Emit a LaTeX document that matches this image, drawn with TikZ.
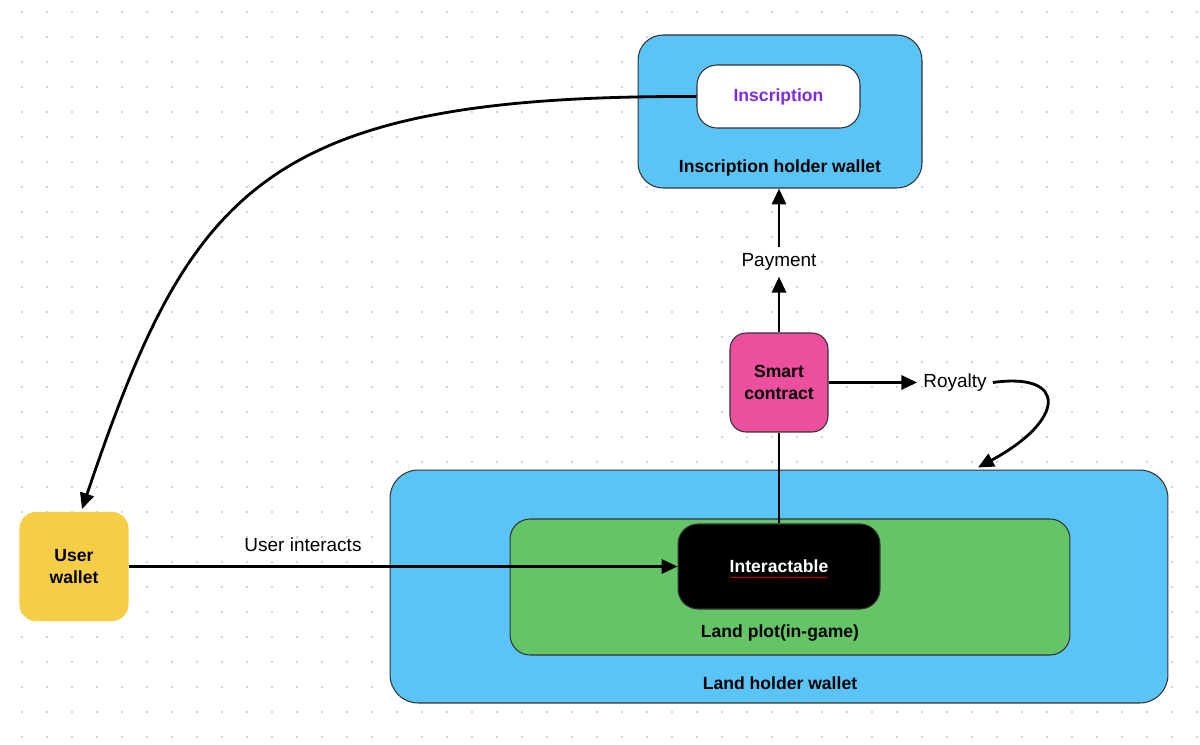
\documentclass[tikz,border=0pt]{standalone}
\usepackage{fontspec}
\setmainfont{Liberation Sans}
\usepackage{tikz}
\usetikzlibrary{
  arrows.meta,%
  calc,%
  % squiggly spell-check line
  decorations.pathmorphing,%
  positioning
}
\definecolor{walletblue}{HTML}{5BC4F6}
\definecolor{plotgreen}{HTML}{65C466}
\definecolor{contractpink}{HTML}{EC4F9E}
\definecolor{useryellow}{HTML}{F5CD47}
\definecolor{insviolet}{HTML}{7D2AE8}
\definecolor{dotgray}{HTML}{C4C4C4}
\tikzset{>={Triangle[length=9pt,width=8pt]}}
\tikzset{font=\fontsize{10.8}{12.8}\selectfont}
\tikzset{
  panel/.style={draw=black!80, line width=0.6pt, inner sep=0pt},
  boldlbl/.style={font=\fontsize{10}{12.5}\selectfont\bfseries},
  flow/.style={->, line width=1.6pt},
  link/.style={line width=1.6pt}
}

\begin{document}
\begin{tikzpicture}[x=0.02cm, y=-0.02cm]
  \useasboundingbox[fill=white] (0,0) rectangle (1200,744);
  % dotted canvas
  \foreach \x in {22,47,...,1197}
    \foreach \y in {12,37,...,737}
      \fill[dotgray] (\x,\y) circle (0.6pt);

  % wallets and boxes
  \node[panel, fill=walletblue, rounded corners=0.5cm, minimum width=5.68cm, minimum height=3.06cm] (inswallet) at (780,111.5) {};
  \node[boldlbl] (inswalletlbl) at (780,168) {Inscription holder wallet};
  \node[panel, fill=white, rounded corners=0.4cm, minimum width=3.26cm, minimum height=1.26cm, boldlbl, text=insviolet] (inscription) at (778.5,96.5) {Inscription};

  \node[panel, fill=walletblue, rounded corners=0.56cm, minimum width=15.56cm, minimum height=4.66cm] (landwallet) at (779,586.5) {};
  \node[boldlbl] (landwalletlbl) at (780,683) {Land holder wallet};
  \node[panel, fill=plotgreen, rounded corners=0.4cm, minimum width=11.2cm, minimum height=2.72cm] (landplot) at (790,587) {};
  \node[boldlbl] (landplotlbl) at (780,633) {Land plot(in-game)};
  \node[panel, fill=black, rounded corners=0.4cm, minimum width=4.04cm, minimum height=1.7cm, boldlbl, text=white] (interact) at (779,566.5) {Interactable};
  \draw[red!85!black, line width=0.4pt, decorate, decoration={snake, amplitude=0.35pt, segment length=2pt}]
    ($(interact.center)+(-49,11)$) -- ($(interact.center)+(49,11)$);

  \node[panel, fill=contractpink, rounded corners=0.32cm, minimum width=1.96cm, minimum height=1.98cm, boldlbl, align=center] (contract) at (779,382.5) {Smart\\contract};
  \node[panel, fill=useryellow, draw=useryellow, rounded corners=0.32cm, minimum width=2.16cm, minimum height=2.16cm, boldlbl, align=center] (userwallet) at (74,566.5) {User\\wallet};

  % free labels
  \node (payment) at (779,262) {Payment};
  \node (royalty) at (955,382.5) {Royalty};
  \node (userint) at (303,545) {User interacts};

  % connectors
  \draw[flow] (inscription.west) .. controls (260,95) and (190,190) .. ($(userwallet.north)+(8,-3)$);
  \draw[flow] (userwallet.east) -- (userwallet.east -| interact.west);
  \draw[link] (interact.north) -- (contract.south);
  \draw[flow] (contract.north) -- (payment.south);
  \draw[flow] (payment.north) -- (payment.north |- inswallet.south);
  \draw[flow] (contract.east) -- (contract.east -| royalty.west);
  \draw[flow] (royalty.east) .. controls (1068,372) and (1066,420) .. ($(landwallet.north)+(199,-2)$);
\end{tikzpicture}
\end{document}
